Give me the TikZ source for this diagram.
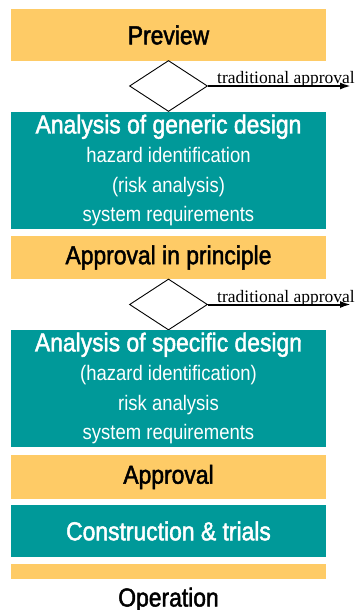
\documentclass[tikz,border=0pt]{standalone}
\usepackage{fontspec}
\usetikzlibrary{shapes.geometric,arrows.meta}
\newfontfamily\narrowfont[FakeStretch=0.88]{Liberation Sans}
\newfontfamily\narrowbold[FakeStretch=0.88,FakeBold=1.8]{Liberation Sans}
\newfontfamily\labelfont{Liberation Serif}
\definecolor{stageorange}{RGB}{254,203,102}
\definecolor{stageteal}{RGB}{0,153,153}
\begin{document}
\begin{tikzpicture}[>={Latex[length=11pt,width=7pt]},x=1pt,y=-1pt,
		stage/.style={fill=stageorange,minimum width=315pt,inner sep=0pt,font=\narrowbold\fontsize{26}{30}\selectfont},
		analysis/.style={fill=stageteal,text=white,minimum width=315pt,minimum height=117pt,inner sep=0pt,align=center,font=\narrowfont\fontsize{21}{29.5}\selectfont},
		check/.style={diamond,draw,line width=0.9pt,minimum width=78pt,minimum height=51pt,inner sep=0pt},
		trad/.style={anchor=base west,inner sep=0pt,font=\labelfont\fontsize{17.5}{18}\selectfont}]
	\useasboundingbox (0,0) rectangle (356,610);
	% preview and generic design
	\node[stage,minimum height=52pt] (preview) at (168.5,35) {Preview};
	\node[check] (check1) at (168.5,86) {};
	\coordinate (out1) at (351,86);
	\draw[->,line width=2pt] (check1.east) -- (out1);
	\node[trad] (trad1) at (217,83.5) {traditional approval};
	\node[analysis] (generic) at (168.5,170.5) {{\narrowbold\fontsize{26}{30}\selectfont Analysis of generic design}\\hazard identification\\(risk analysis)\\system requirements};
	\node[stage,minimum height=43pt] (principle) at (168.5,257.5) {Approval in principle};
	% specific design
	\node[check] (check2) at (168.5,304.5) {};
	\coordinate (out2) at (351,304.5);
	\draw[->,line width=2pt] (check2.east) -- (out2);
	\node[trad] (trad2) at (217,302) {traditional approval};
	\node[analysis] (specific) at (168.5,388.5) {{\narrowbold\fontsize{26}{30}\selectfont Analysis of specific design}\\(hazard identification)\\risk analysis\\system requirements};
	\node[stage,minimum height=44pt] (approval) at (168.5,477) {Approval};
	\node[analysis,minimum height=52pt,font=\narrowbold\fontsize{26}{30}\selectfont] (trials) at (168.5,531) {Construction \& trials};
	\node[stage,minimum height=15pt] (strip) at (168.5,571.5) {};
	\node[anchor=base,inner sep=0pt,font=\narrowbold\fontsize{26}{30}\selectfont] (operation) at (168.5,606.5) {Operation};
	%\draw (strip) -- (operation);
\end{tikzpicture}
\end{document}
